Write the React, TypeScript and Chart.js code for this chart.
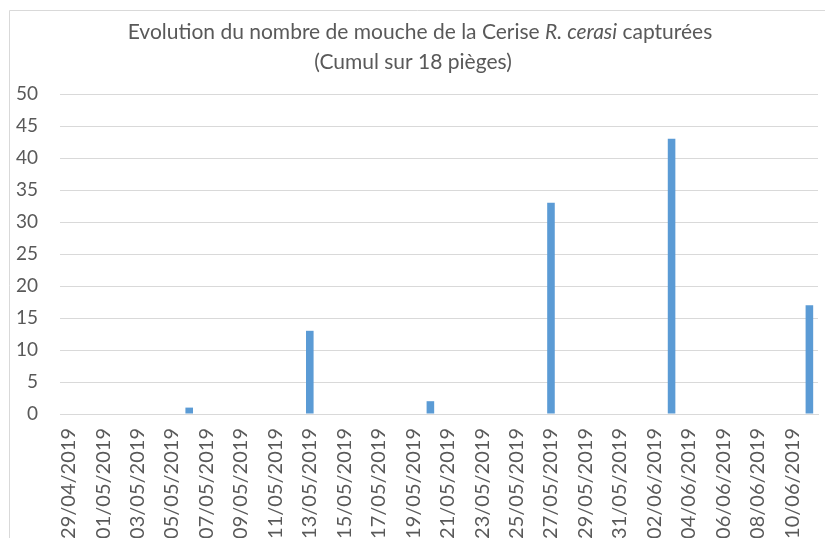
import React, { useEffect, useRef } from 'react';
import { Chart, registerables } from 'chart.js';

Chart.register(...registerables);

// Every day of the axis (date axis, one slot per day)
const days: string[] = [
  '29/04/2019', '30/04/2019',
  '01/05/2019', '02/05/2019', '03/05/2019', '04/05/2019', '05/05/2019', '06/05/2019', '07/05/2019',
  '08/05/2019', '09/05/2019', '10/05/2019', '11/05/2019', '12/05/2019', '13/05/2019', '14/05/2019',
  '15/05/2019', '16/05/2019', '17/05/2019', '18/05/2019', '19/05/2019', '20/05/2019', '21/05/2019',
  '22/05/2019', '23/05/2019', '24/05/2019', '25/05/2019', '26/05/2019', '27/05/2019', '28/05/2019',
  '29/05/2019', '30/05/2019', '31/05/2019',
  '01/06/2019', '02/06/2019', '03/06/2019', '04/06/2019', '05/06/2019', '06/06/2019', '07/06/2019',
  '08/06/2019', '09/06/2019', '10/06/2019', '11/06/2019',
];

// Labels shown on the axis (every second day)
const tickLabels: string[] = [
  '29/04/2019', '01/05/2019', '03/05/2019', '05/05/2019', '07/05/2019', '09/05/2019', '11/05/2019',
  '13/05/2019', '15/05/2019', '17/05/2019', '19/05/2019', '21/05/2019', '23/05/2019', '25/05/2019',
  '27/05/2019', '29/05/2019', '31/05/2019', '02/06/2019', '04/06/2019', '06/06/2019', '08/06/2019',
  '10/06/2019',
];

// Trap readings
const captureDates: string[] = ['06/05/2019', '13/05/2019', '20/05/2019', '27/05/2019', '03/06/2019', '11/06/2019'];
const captureCounts: number[] = [1, 13, 2, 33, 43, 17];

const titleSegments: string[] = ['Evolution du nombre de mouche de la Cerise ', 'R. cerasi', ' capturées'];
const titleItalic: boolean[] = [false, true, false];
const subtitle = '(Cumul sur 18 pièges)';

const FONT = 'Lato, "Open Sans", sans-serif';
const TEXT = '#595959';
const GRID = '#d9d9d9';
const W = 825;
const H = 560;

const decorPlugin = {
  id: 'decor',
  afterDraw(chart: any) {
    const ctx = chart.ctx as CanvasRenderingContext2D;
    ctx.save();
    // chart frame
    ctx.strokeStyle = GRID;
    ctx.lineWidth = 1;
    ctx.beginPath();
    ctx.moveTo(9.5, H);
    ctx.lineTo(9.5, 10.5);
    ctx.lineTo(W, 10.5);
    ctx.stroke();

    // title, with the italic species name
    const size = 21;
    ctx.fillStyle = TEXT;
    ctx.textBaseline = 'middle';
    ctx.textAlign = 'left';
    const fonts = titleItalic.map((it) => `${it ? 'italic ' : ''}${size}px ${FONT}`);
    const widths = titleSegments.map((s, i) => {
      ctx.font = fonts[i];
      return ctx.measureText(s).width;
    });
    const total = widths.reduce((a, b) => a + b, 0);
    let x = 420 - total / 2;
    titleSegments.forEach((s, i) => {
      ctx.font = fonts[i];
      ctx.fillText(s, x, 32);
      x += widths[i];
    });
    ctx.font = `${size}px ${FONT}`;
    ctx.textAlign = 'center';
    ctx.fillText(subtitle, 413, 62);
    ctx.restore();
  },
};

export default function App() {
  const ref = useRef<HTMLCanvasElement | null>(null);

  useEffect(() => {
    if (!ref.current) return;
    const values = days.map((d) => {
      const i = captureDates.indexOf(d);
      return i >= 0 ? captureCounts[i] : null;
    });
    const chart = new Chart(ref.current, {
      type: 'bar',
      data: {
        labels: days,
        datasets: [
          {
            data: values,
            backgroundColor: '#5b9bd5',
            borderWidth: 0,
            categoryPercentage: 1,
            barPercentage: 0.44,
          },
        ],
      },
      plugins: [decorPlugin],
      options: {
        responsive: false,
        animation: false,
        layout: { padding: { top: 94, right: 7, left: 0, bottom: 0 } },
        plugins: {
          legend: { display: false },
          title: { display: false },
          tooltip: { enabled: false },
        },
        scales: {
          x: {
            type: 'category',
            offset: true,
            grid: { display: false, drawTicks: false },
            border: { display: true, color: GRID, width: 1 },
            ticks: {
              autoSkip: false,
              minRotation: 90,
              maxRotation: 90,
              padding: 14,
              color: TEXT,
              font: { family: FONT, size: 20 },
              callback: function (this: any, _v: any, index: number) {
                const d = days[index];
                return tickLabels.includes(d) ? d : '';
              },
            },
            afterFit: (scale: any) => {
              scale.height = H - 414;
              scale.paddingLeft = 0;
              scale.paddingRight = 0;
            },
          },
          y: {
            min: 0,
            max: 50,
            grid: { color: GRID, lineWidth: 1, drawTicks: false },
            border: { display: false },
            ticks: {
              stepSize: 5,
              padding: 22,
              color: TEXT,
              font: { family: FONT, size: 19 },
            },
            afterFit: (scale: any) => {
              scale.width = 60;
              scale.paddingTop = 0;
              scale.paddingBottom = 0;
            },
          },
        },
      },
    });
    return () => chart.destroy();
  }, []);

  return (
    <div style={{ position: 'fixed', left: 0, top: 0, width: W, height: 538, overflow: 'hidden', background: '#fff' }}>
      <canvas ref={ref} width={W} height={H} style={{ display: 'block', width: W, height: H }} />
    </div>
  );
}
